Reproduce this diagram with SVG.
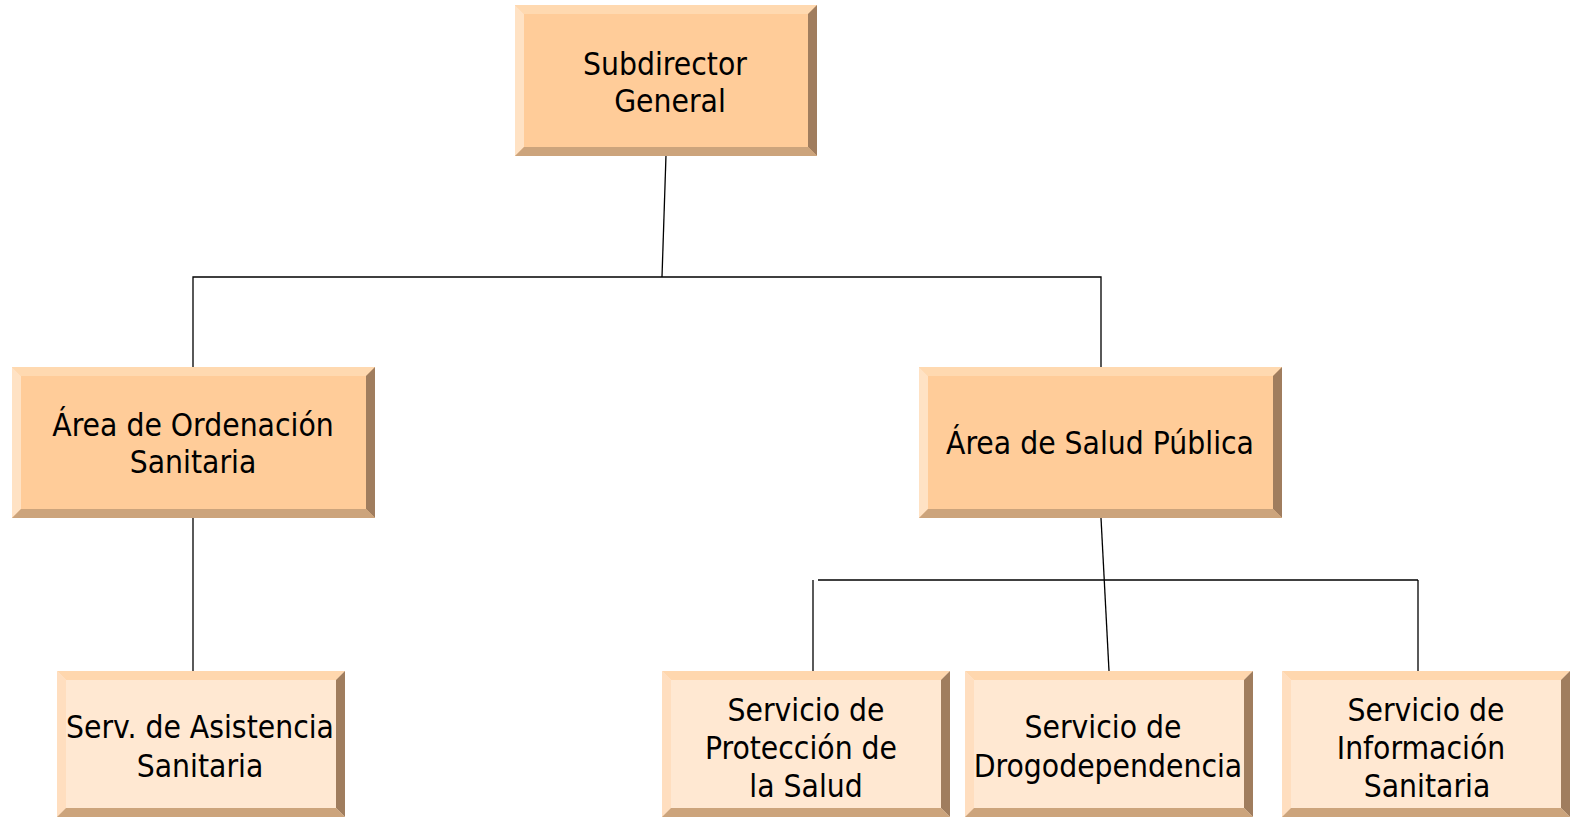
<svg xmlns="http://www.w3.org/2000/svg" width="1575" height="818" viewBox="0 0 1575 818">
<style>
.t{font-family:"DejaVu Sans Condensed","DejaVu Sans","Liberation Sans",sans-serif;font-stretch:condensed;font-size:31.5px;fill:#000;text-anchor:middle}
.ln{stroke:#000;stroke-width:1.3;fill:none}
.f1{fill:#FFCC99}.f2{fill:#FFE8D2}
.bt1{fill:#FFD9B0}.bl1{fill:#FFE2C4}.br{fill:#A07D5E}.bb{fill:#CCA47C}
.bt2{fill:#FFD7AE}.bl2{fill:#FFDEBF}
</style>
<rect width="1575" height="818" fill="#fff"/>
<g id="connectors">
<line class="ln" x1="666" y1="155" x2="662" y2="277"/>
<polyline class="ln" points="193,367 193,277 1101,277 1101,367"/>
<line class="ln" x1="193" y1="518" x2="193" y2="671"/>
<line class="ln" x1="1101" y1="518" x2="1109" y2="671"/>
<line class="ln" x1="818" y1="580" x2="1418" y2="580"/>
<line class="ln" x1="813" y1="580" x2="813" y2="671"/>
<line class="ln" x1="1418" y1="580" x2="1418" y2="671"/>
</g>
<g id="n1">
<rect class="f1" x="515" y="5" width="302" height="151"/>
<polygon class="bt1" points="515,5 817,5 808,14 524,14"/>
<polygon class="bl1" points="515,5 524,14 524,147 515,156"/>
<polygon class="br" points="817,5 817,156 808,147 808,14"/>
<polygon class="bb" points="515,156 817,156 808,147 524,147"/>
<text class="t" x="665" y="75">Subdirector</text>
<text class="t" x="670" y="112">General</text>
</g>
<g id="n2">
<rect class="f1" x="12" y="367" width="363" height="151"/>
<polygon class="bt1" points="12,367 375,367 366,376 21,376"/>
<polygon class="bl1" points="12,367 21,376 21,509 12,518"/>
<polygon class="br" points="375,367 375,518 366,509 366,376"/>
<polygon class="bb" points="12,518 375,518 366,509 21,509"/>
<text class="t" x="193" y="436">Área de Ordenación</text>
<text class="t" x="193" y="473">Sanitaria</text>
</g>
<g id="n3">
<rect class="f1" x="919" y="367" width="363" height="151"/>
<polygon class="bt1" points="919,367 1282,367 1273,376 928,376"/>
<polygon class="bl1" points="919,367 928,376 928,509 919,518"/>
<polygon class="br" points="1282,367 1282,518 1273,509 1273,376"/>
<polygon class="bb" points="919,518 1282,518 1273,509 928,509"/>
<text class="t" x="1100" y="454">Área de Salud Pública</text>
</g>
<g id="n4">
<rect class="f2" x="57" y="671" width="288" height="146"/>
<polygon class="bt2" points="57,671 345,671 336,680 66,680"/>
<polygon class="bl2" points="57,671 66,680 66,808 57,817"/>
<polygon class="br" points="345,671 345,817 336,808 336,680"/>
<polygon class="bb" points="57,817 345,817 336,808 66,808"/>
<text class="t" x="200" y="738">Serv. de Asistencia</text>
<text class="t" x="200" y="777">Sanitaria</text>
</g>
<g id="n5">
<rect class="f2" x="662" y="671" width="288" height="146"/>
<polygon class="bt2" points="662,671 950,671 941,680 671,680"/>
<polygon class="bl2" points="662,671 671,680 671,808 662,817"/>
<polygon class="br" points="950,671 950,817 941,808 941,680"/>
<polygon class="bb" points="662,817 950,817 941,808 671,808"/>
<text class="t" x="806" y="721">Servicio de</text>
<text class="t" x="801" y="759">Protección de</text>
<text class="t" x="806" y="797">la Salud</text>
</g>
<g id="n6">
<rect class="f2" x="965" y="671" width="288" height="146"/>
<polygon class="bt2" points="965,671 1253,671 1244,680 974,680"/>
<polygon class="bl2" points="965,671 974,680 974,808 965,817"/>
<polygon class="br" points="1253,671 1253,817 1244,808 1244,680"/>
<polygon class="bb" points="965,817 1253,817 1244,808 974,808"/>
<text class="t" x="1103" y="738">Servicio de</text>
<text class="t" x="1108" y="777">Drogodependencia</text>
</g>
<g id="n7">
<rect class="f2" x="1282" y="671" width="288" height="146"/>
<polygon class="bt2" points="1282,671 1570,671 1561,680 1291,680"/>
<polygon class="bl2" points="1282,671 1291,680 1291,808 1282,817"/>
<polygon class="br" points="1570,671 1570,817 1561,808 1561,680"/>
<polygon class="bb" points="1282,817 1570,817 1561,808 1291,808"/>
<text class="t" x="1426" y="721">Servicio de</text>
<text class="t" x="1421" y="759">Información</text>
<text class="t" x="1427" y="797">Sanitaria</text>
</g>
</svg>
